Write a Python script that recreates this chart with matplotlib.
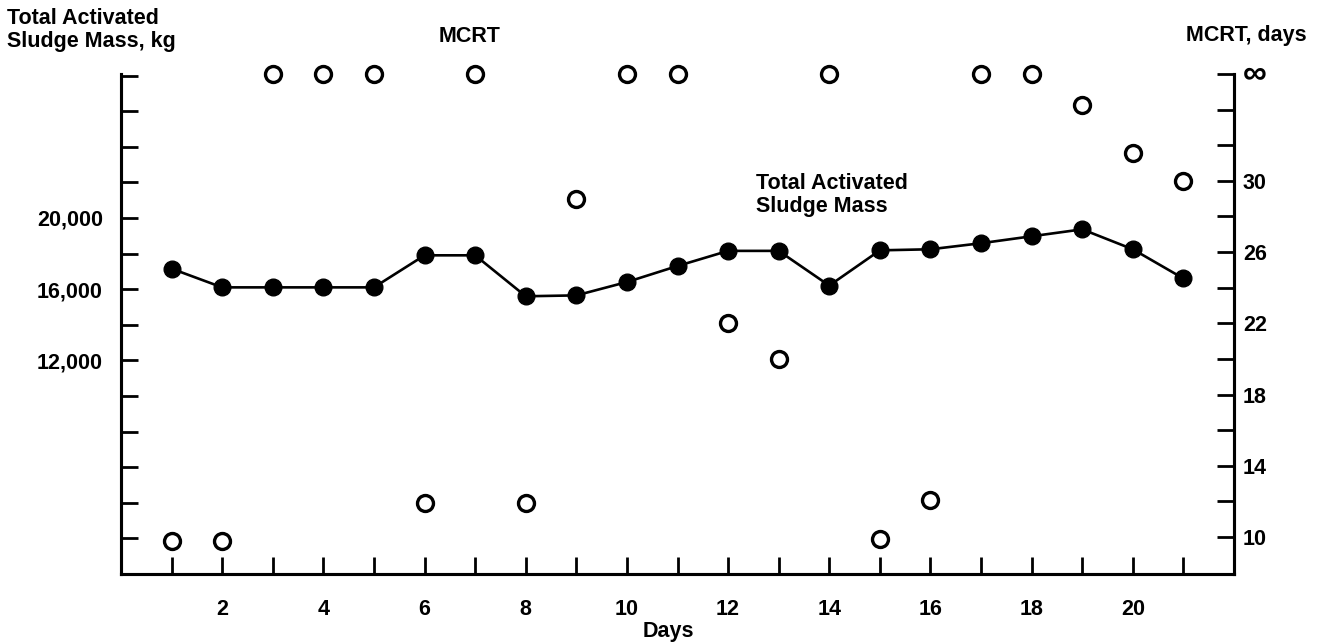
import matplotlib.pyplot as plt
import numpy as np

plt.rcParams['font.family'] = ['Liberation Sans', 'DejaVu Sans']
plt.rcParams['font.weight'] = 'bold'

inf = float('inf')

days = list(range(1, 22))
sludge_mass = [17150, 16100, 16100, 16100, 16100, 17900, 17900, 15600, 15650, 16400, 17300,
               18150, 18150, 16200, 18180, 18240, 18580, 18970, 19360, 18240, 16600]
mcrt = [9.8, 9.8, inf, inf, inf, 11.9, inf, 11.9, 29.0, inf, inf,
        22.0, 20.0, inf, 9.9, 12.1, inf, inf, 34.25, 31.55, 30.0]

x_tick_labels = [str(d) if d % 2 == 0 else '' for d in days]
mass_ticks = list(range(2000, 28001, 2000))
mass_labels = ['12,000' if t == 12000 else '16,000' if t == 16000 else '20,000' if t == 20000 else ''
               for t in mass_ticks]
mcrt_ticks = list(range(10, 37, 2))
mcrt_labels = [str(t) if t in (10, 14, 18, 22, 26, 30) else '' for t in mcrt_ticks]
INF_POS = 36  # where "infinite" MCRT is drawn on the right scale

fig = plt.figure(figsize=(13.2, 6.42), dpi=100)
ax = fig.add_axes([121 / 1320, 1 - 574 / 642, (1234 - 121) / 1320, (574 - 74) / 642])
ax2 = ax.twinx()

fs = 15.5
tkw = dict(direction='in', length=12, width=2.0, labelsize=fs)

ax.plot(days, sludge_mass, color='black', lw=1.9, marker='o', ms=12, mfc='black', mec='black', zorder=3)
ax.set_xlim(0, 22)
ax.set_ylim(0, 28085)
ax.set_xticks(days)
ax.set_xticklabels(x_tick_labels)
ax.set_yticks(mass_ticks)
ax.set_yticklabels(mass_labels)
ax.tick_params(axis='x', pad=18, **tkw)
ax.tick_params(axis='y', pad=13, **tkw)

mcrt_plot = [INF_POS if np.isinf(v) else v for v in mcrt]
ax2.plot(days, mcrt_plot, linestyle='none', marker='o', ms=11.5, mfc='white', mec='black', mew=2.4,
         clip_on=False)
ax2.set_ylim(7.92, 36)
ax2.set_yticks(mcrt_ticks)
ax2.set_yticklabels(mcrt_labels)
ax2.tick_params(axis='y', pad=6.5, **tkw)
# infinity label for the top tick, drawn larger like the original
ax2.text(1.008, 1.0, '∞', transform=ax2.transAxes, fontsize=24, ha='left', va='center')

for a in (ax, ax2):
    a.spines['top'].set_visible(False)
    for s in ('left', 'right', 'bottom'):
        a.spines[s].set_linewidth(2.2)

ax.text(12.56, 22500, 'Total Activated\nSludge Mass', fontsize=fs, ha='left', va='top', linespacing=1.1)

fig.text(7 / 1320, 1 - 8 / 642, 'Total Activated\nSludge Mass, kg', fontsize=fs, ha='left', va='top', linespacing=1.1)
fig.text(470 / 1320, 1 - 37 / 642, 'MCRT', fontsize=fs, ha='center', va='center')
fig.text(1246 / 1320, 1 - 36 / 642, 'MCRT, days', fontsize=fs, ha='center', va='center')
fig.text(668 / 1320, 1 - 632 / 642, 'Days', fontsize=fs, ha='center', va='center')

fig.savefig('out.png', dpi=100)
